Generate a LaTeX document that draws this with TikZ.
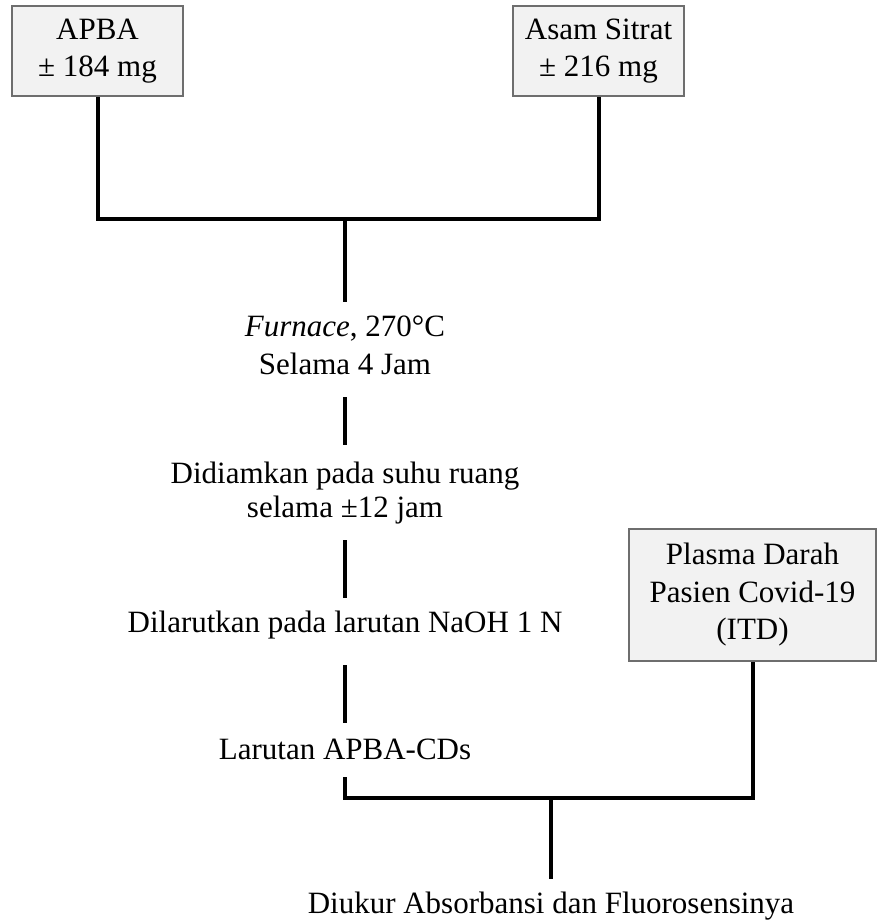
\documentclass[tikz,border=0pt]{standalone}
\usepackage{fontspec}
\setmainfont{Liberation Serif}
\usepackage{xcolor}
\usepackage{tikz}
\usetikzlibrary{positioning}

\definecolor{boxfill}{RGB}{242,242,242}
\definecolor{boxline}{RGB}{110,110,110}

\begin{document}
\begin{tikzpicture}[x=0.5pt,y=-0.5pt,font=\fontsize{15.5}{18.5}\selectfont]
	  \tikzset{box/.style={draw=boxline, fill=boxfill, line width=0.8pt, rectangle, align=center, inner sep=0pt, minimum width=85.5pt, minimum height=45pt},
	  	stepnode/.style={align=center, inner sep=0pt},
	  	link/.style={draw, line width=2pt},
	  }
	  \useasboundingbox (0,0) rectangle (877,921);
	  \node [box] (apba) at (97.5,51) {APBA\\± 184 mg};
	  \node [box, right=164.2pt of apba] (sitrat) {Asam Sitrat\\± 216 mg};
	  \node [box, minimum width=123.5pt, minimum height=66pt, font=\fontsize{15.5}{18.75}\selectfont] (plasma) at (752.5,595) {Plasma Darah\\Pasien Covid-19\\(ITD)};
	  
	  \coordinate (mix) at (345,219);
	  \node [stepnode, font=\fontsize{15.5}{19}\selectfont, below=48pt of mix] (furnace) {\textit{Furnace}, 270°C\\Selama 4 Jam};
	  \node [stepnode, font=\fontsize{15.5}{17}\selectfont, below=43.65pt of furnace] (diam) {Didiamkan pada suhu ruang\\selama ±12 jam};
	  \node [stepnode, below=43pt of diam] (larut) {Dilarutkan pada larutan NaOH 1 N};
	  \node [stepnode, below=49.15pt of larut] (hasil) {Larutan APBA-CDs};
	  \coordinate (merge) at (551,798);
	  \node [stepnode, below=46.9pt of merge] (ukur) {Diukur Absorbansi dan Fluorosensinya};
	  
	  %% paths
	  \path[link] (apba.south) |- (mix) -| (sitrat.south);
	  \path[link] (mix) edge[shorten >=6.5pt] (furnace)
	  (furnace) edge[shorten <=11.25pt, shorten >=8.4pt] (diam)
	  (diam) edge[shorten <=7.6pt, shorten >=6.4pt] (larut)
	  (larut) edge[shorten <=12.65pt, shorten >=7.5pt] (hasil)
	  ;
	  \path[link, shorten <=8.8pt] (hasil.south) |- (merge) -| (plasma.south);
	  \path[link, shorten >=6.4pt] (merge) -- (ukur);
\end{tikzpicture}
\end{document}
